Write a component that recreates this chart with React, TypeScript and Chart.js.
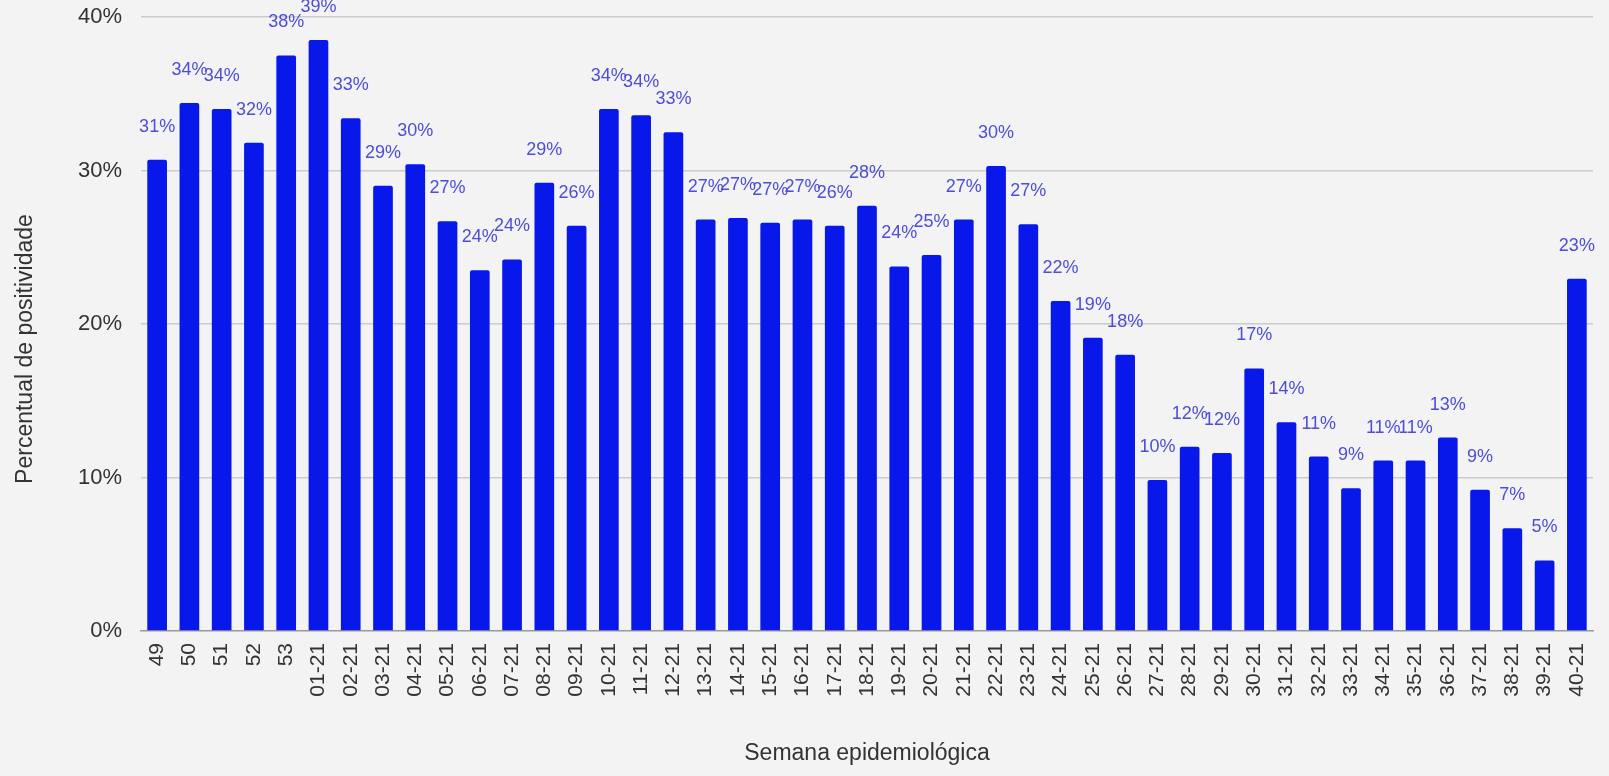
import React, { useEffect, useRef } from "react";
import { Chart, registerables } from "chart.js";

Chart.register(...registerables);

const weeks: string[] = [
  "49", "50", "51", "52", "53",
  "01-21", "02-21", "03-21", "04-21", "05-21", "06-21", "07-21", "08-21", "09-21", "10-21",
  "11-21", "12-21", "13-21", "14-21", "15-21", "16-21", "17-21", "18-21", "19-21", "20-21",
  "21-21", "22-21", "23-21", "24-21", "25-21", "26-21", "27-21", "28-21", "29-21", "30-21",
  "31-21", "32-21", "33-21", "34-21", "35-21", "36-21", "37-21", "38-21", "39-21", "40-21",
];

const positivity: number[] = [
  30.7, 34.4, 34.0, 31.8, 37.5,
  38.5, 33.4, 29.0, 30.4, 26.7, 23.5, 24.2, 29.2, 26.4, 34.0,
  33.6, 32.5, 26.8, 26.9, 26.6, 26.8, 26.4, 27.7, 23.75, 24.5,
  26.8, 30.3, 26.5, 21.5, 19.1, 18.0, 9.84, 12.0, 11.6, 17.1,
  13.6, 11.36, 9.3, 11.1, 11.1, 12.6, 9.2, 6.7, 4.6, 22.95,
];

const yTicks: number[] = [0, 10, 20, 30, 40];
const xTitle = "Semana epidemiológica";
const yTitle = "Percentual de positividade";

const FONT = "'Liberation Sans', Arial, Helvetica, sans-serif";

const valueLabels = {
  id: "valueLabels",
  afterDatasetsDraw(chart: any) {
    const ctx = chart.ctx;
    const meta = chart.getDatasetMeta(0);
    ctx.save();
    ctx.font = `18px ${FONT}`;
    ctx.fillStyle = "#4d4dd6";
    ctx.textAlign = "center";
    ctx.textBaseline = "middle";
    meta.data.forEach((bar: any, i: number) => {
      const v = positivity[i];
      ctx.fillText(`${Math.round(v)}%`, bar.x, bar.y - 33);
    });
    ctx.restore();
  },
};

const axisTitles = {
  id: "axisTitles",
  afterDraw(chart: any) {
    const ctx = chart.ctx;
    const area = chart.chartArea;
    ctx.save();
    ctx.font = `23px ${FONT}`;
    ctx.fillStyle = "#333333";
    ctx.textAlign = "center";
    ctx.textBaseline = "middle";
    ctx.fillText(xTitle, (area.left + area.right) / 2, chart.height - 22);
    ctx.translate(26, (area.top + area.bottom) / 2 + 25);
    ctx.rotate(-Math.PI / 2);
    ctx.fillText(yTitle, 0, 0);
    ctx.restore();
  },
};

export default function App() {
  const canvasRef = useRef<HTMLCanvasElement | null>(null);

  useEffect(() => {
    if (!canvasRef.current) return;
    const chart = new Chart(canvasRef.current, {
      type: "bar",
      data: {
        labels: weeks,
        datasets: [
          {
            data: positivity,
            backgroundColor: "#0818ea",
            borderRadius: 2,
            borderSkipped: "bottom",
            categoryPercentage: 1,
            barPercentage: 0.61,
          },
        ],
      },
      options: {
        animation: false,
        responsive: true,
        maintainAspectRatio: false,
        layout: { padding: { top: 17, right: 16, left: 0, bottom: 0 } },
        plugins: {
          legend: { display: false },
          tooltip: { enabled: false },
          title: { display: false },
        },
        scales: {
          x: {
            grid: { display: false, drawTicks: false },
            border: { display: true, color: "#9a9a9a", width: 1.5 },
            ticks: {
              autoSkip: false,
              minRotation: 90,
              maxRotation: 90,
              padding: 12,
              color: "#333333",
              font: { family: FONT, size: 21 },
            },
            afterFit(scale: any) {
              scale.height = 145;
              scale.paddingLeft = 0;
              scale.paddingRight = 0;
            },
          },
          y: {
            min: 0,
            max: 40,
            afterBuildTicks(scale: any) {
              scale.ticks = yTicks.map((v) => ({ value: v }));
            },
            grid: {
              drawTicks: false,
              color: (c: any) => (c.tick && c.tick.value === 0 ? "rgba(0,0,0,0)" : "#cccccc"),
              lineWidth: 1.5,
            },
            border: { display: false },
            ticks: {
              padding: 19,
              color: "#333333",
              font: { family: FONT, size: 22 },
              callback: (v: any) => `${v}%`,
            },
            afterFit(scale: any) {
              scale.width = 141;
              scale.paddingTop = 0;
              scale.paddingBottom = 0;
            },
          },
        },
      },
      plugins: [valueLabels, axisTitles],
    });
    return () => chart.destroy();
  }, []);

  return (
    <div
      style={{
        position: "fixed",
        left: 0,
        top: 0,
        width: "1609px",
        height: "776px",
        background: "#f3f3f3",
      }}
    >
      <canvas ref={canvasRef} />
    </div>
  );
}
